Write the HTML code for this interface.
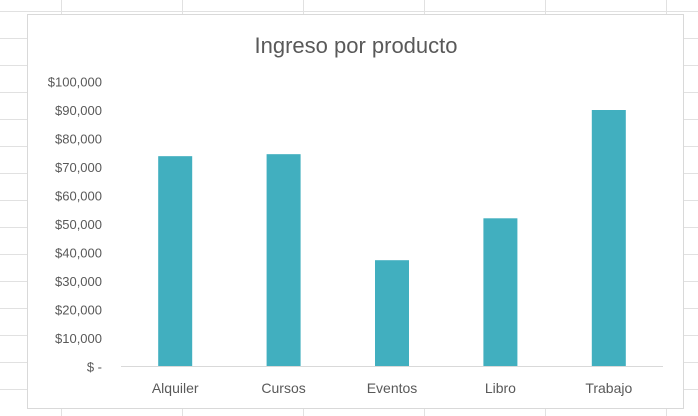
<!DOCTYPE html>
<html><head><meta charset="utf-8"><style>
body{margin:0;width:698px;height:416px;overflow:hidden;background:#fff;font-family:"Liberation Sans",sans-serif}
svg{display:block}
</style></head><body>
<svg id="s" width="698" height="416">
<g id="grid"></g>
<rect x="27.5" y="14.5" width="656" height="394" fill="#fff" stroke="#d9d9d9"/>
<text x="356" y="53" text-anchor="middle" font-size="22" fill="#595959">Ingreso por producto</text>
<g id="yax"></g>
<g id="bars"></g>
<line x1="121" y1="366.5" x2="663" y2="366.5" stroke="#d9d9d9"/>
<g id="xax"></g>
</svg>
<script>
const categories=["Alquiler","Cursos","Eventos","Libro","Trabajo"];
const values=[73800,74500,37300,52000,90000];
const yTicks=[0,10000,20000,30000,40000,50000,60000,70000,80000,90000,100000];
const yTickLabels=["$ -","$10,000","$20,000","$30,000","$40,000","$50,000","$60,000","$70,000","$80,000","$90,000","$100,000"];
const NS="http://www.w3.org/2000/svg";
function mk(t,a,p){const e=document.createElementNS(NS,t);for(const k in a)e.setAttribute(k,a[k]);p.appendChild(e);return e;}
const y0=366.5,y1=81.5,x0=121,x1=663;
const ys=v=>y0-(v/100000)*(y0-y1);
const band=(x1-x0)/categories.length;
const xs=i=>x0+band*(i+0.5);
const g=document.getElementById('grid');
for(let y=11.5;y<416;y+=27){const l=mk('line',{x1:0,x2:698,y1:y,y2:y,stroke:'#e1e1e1'},g);

}
[61.5,182.5,303.5,424.5,545.5,666.5].forEach(x=>{const l=mk('line',{x1:x,x2:x,y1:0,y2:416,stroke:'#e1e1e1'},g);

});
const ya=document.getElementById('yax');
yTicks.forEach((v,i)=>{const t=mk('text',{x:102,y:ys(v)+5,'text-anchor':'end','font-size':'13',fill:'#595959'},ya);t.textContent=yTickLabels[i];

});
const b=document.getElementById('bars'),xa=document.getElementById('xax');
categories.forEach((c,i)=>{const w=34;
const r=mk('rect',{x:xs(i)-w/2,y:ys(values[i]),width:w,height:y0-ys(values[i]),fill:'#41afbf'},b);


const t=mk('text',{x:xs(i),y:393,'text-anchor':'middle','font-size':'14',fill:'#595959'},xa);t.textContent=c;

});
</script>
</body></html>
